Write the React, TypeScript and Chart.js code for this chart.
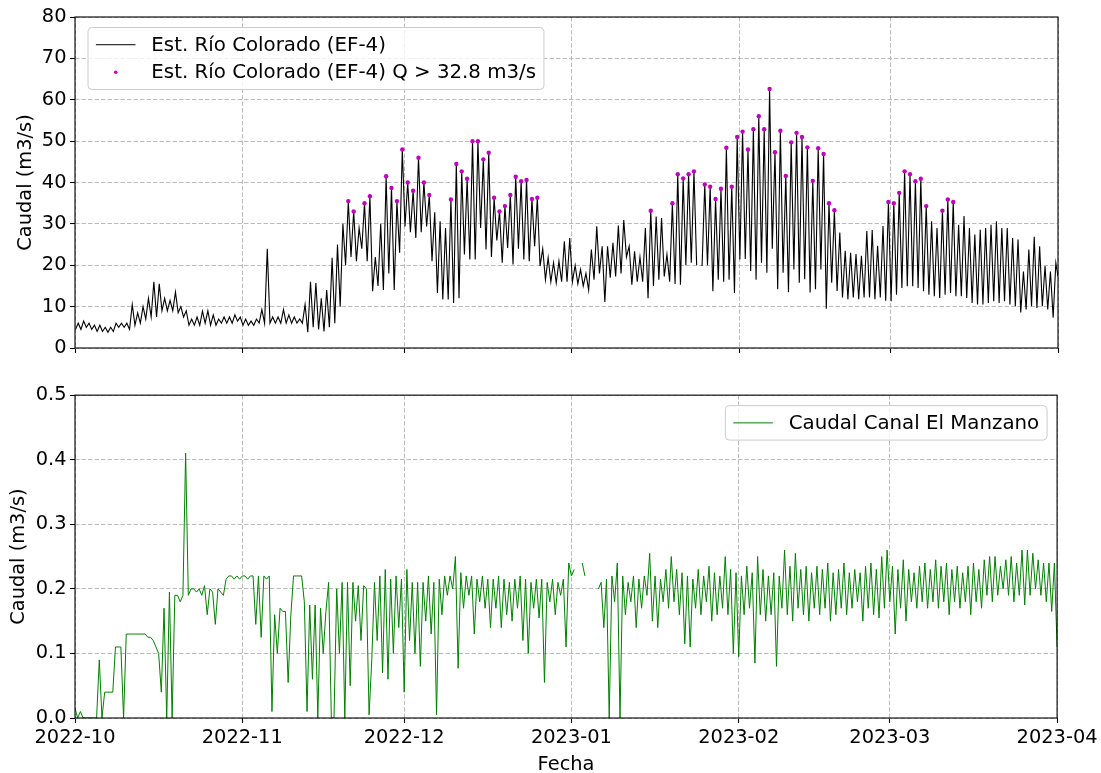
import React, { useEffect, useRef } from "react";
import { Chart, registerables } from "chart.js";

Chart.register(...registerables);

const FONT_FAMILY = '"DejaVu Sans", Verdana, sans-serif';
const FONT_SIZE = 19.4;
const LEGEND_FONT_SIZE = 19.8;

// ---------- shared x axis (days since 2022-10-01) ----------
const monthTickDays = [0, 31, 61, 92, 123, 151, 182];
const monthTickLabels = ["2022-10", "2022-11", "2022-12", "2023-01", "2023-02", "2023-03", "2023-04"];

// ---------- Est. Río Colorado (EF-4): daily peak and daily low (m3/s) ----------
const rioThreshold = 32.8;
const rioPeakOct = [6, 6.5, 6, 5.5, 5.5, 5, 5, 6, 6, 6, 10.5, 8.5, 10, 12, 16, 15.5, 12, 11.5, 13.5, 10, 9, 7, 7.5, 8.9, 9, 8, 7, 7.5, 7.5, 8, 7.5];
const rioLowOct = [4.5, 4.5, 5, 4.5, 4, 4, 3.8, 4, 5, 5, 4.5, 5.5, 6, 7, 7.5, 7.5, 9, 9, 9, 8.5, 7.5, 5.5, 5.5, 5.5, 6, 5.5, 5.5, 6, 6, 6, 6.5];
const rioPeakNov = [7, 6.5, 7, 9.3, 24, 7.5, 7.5, 9.3, 8, 7.5, 7, 10.5, 16, 15.7, 12, 14, 21.8, 25, 30, 35.5, 33, 29, 35, 36.7, 22, 30, 41.5, 38.7, 35.5, 48];
const rioLowNov = [5.5, 5.5, 5.5, 6, 6, 6, 6, 6, 6, 6, 6, 6, 3.8, 5, 4.5, 4, 5, 6, 10, 20, 22, 21, 24, 21, 13.7, 15, 14, 18, 14, 23];
const rioPeakDec = [40, 38, 46, 40, 37, 32.8, 30.6, 29, 35.9, 44.5, 42.7, 40.9, 50, 50, 45.6, 47.2, 36.3, 33, 34.3, 37, 41.4, 40.3, 40.6, 36, 36.3, 24, 21.8, 20.6, 21, 25.8, 26.6];
const rioLowDec = [29.4, 28, 26.6, 28, 29.4, 21, 13.3, 11.7, 11.7, 10.9, 12, 22.6, 21.4, 21.4, 29, 23.8, 22, 26, 20.6, 24.2, 20.2, 24, 21.4, 21, 24.6, 19.8, 16.5, 16, 15.7, 16, 16];
const rioPeakJan = [20, 19, 18, 23.8, 29.4, 24.6, 24.6, 25.4, 29.6, 30.9, 24.6, 23.4, 22, 29, 33.2, 31.8, 31.4, 22.6, 35, 42, 41, 42, 42.7, null, 39.5, 39, 36, 38.5, 48.4, 39, 51];
const rioLowJan = [16, 15.5, 15, 14, 16.5, 18, 11.1, 17, 17.3, 18, 22, 15.3, 16, 16, 12, 15, 16.5, 17.3, 16, 15.5, 15.3, 20, 20.6, 20, 19.8, 20, 13.7, 16.5, 16, 16.5, 13.3];
const rioPeakFeb = [52.3, 48, 52.9, 56, 52.9, 62.6, 47.3, 52.5, 41.6, 49.7, 52, 51, 48.5, 40.4, 48.3, 46.9, 35, 33.3, 27.9, 23.5, 23, 22.7, 22.3, 28.3, 28.5, 24.7, 29.5, 35.3];
const rioLowFeb = [21.4, 21.5, 18.6, 16.5, 20.6, 18.2, 24, 14.2, 18.2, 13.5, 19, 15.8, 16.6, 13.4, 14.2, 19, 9.5, 15.8, 13.8, 12.2, 11.8, 12.2, 11.8, 12.2, 12.2, 11.8, 12.2, 11.4];
const rioPeakMar = [35, 37.5, 42.7, 42, 40.3, 40.9, 34.3, 30.6, 29, 33.2, 35.9, 35.3, 29.8, 31.9, 29, 27.4, 28.6, 29, 29.8, 30.6, 29, 29, 26.6, 26.2, 18.5, 23.8, 26.9, 24.6, 19.8, 18.5, 20.6];
const rioLowMar = [11.3, 12.9, 14.5, 14.9, 14.9, 14.5, 13.7, 12.9, 12.5, 12.1, 12.9, 13.3, 12.5, 12.5, 12.1, 10.9, 10.5, 10.5, 10.9, 11.3, 10.9, 11.3, 10.5, 10.1, 8.6, 9.3, 10.1, 9.7, 10.1, 9.3, 7.3];
const rioLastValue = 17.3;

// ---------- Caudal Canal El Manzano: two readings per day (m3/s) ----------
const canalFirstOct = [0.015, 0.01, 0, 0, 0, 0, 0.04, 0.04, 0.11, 0, 0.13, 0.13, 0.13, 0.13, 0.125, 0.11, 0.04, 0, 0, 0.19, 0.19, 0.19, 0.2, 0.2, 0.205, 0.2, 0.145, 0.195, 0.215, 0.22, 0.22];
const canalSecondOct = [0, 0, 0, 0, 0.09, 0.04, 0.04, 0.11, 0.11, 0.13, 0.13, 0.13, 0.13, 0.125, 0.12, 0.1, 0.17, 0.195, 0.19, 0.18, 0.41, 0.2, 0.195, 0.19, 0.16, 0.195, 0.2, 0.19, 0.22, 0.215, 0.215];
const canalFirstNov = [0.22, 0.215, 0.22, 0.22, 0.22, 0.22, 0.16, 0.17, 0.165, 0.16, 0.22, 0.22, 0.01, 0.06, 0, 0.1, 0.21, 0, 0.1, 0, 0.05, 0.15, 0.12, 0.2, 0.09, 0.12, 0.07, 0.06, 0.1, 0.14];
const canalSecondNov = [0.22, 0.22, 0.145, 0.125, 0.215, 0.01, 0.1, 0.165, 0.055, 0.22, 0.22, 0.18, 0.175, 0.175, 0.17, 0.165, 0, 0.2, 0.21, 0.21, 0.21, 0.205, 0.205, 0.005, 0.21, 0.22, 0.23, 0.215, 0.22, 0.215];
const canalFirstDec = [0.04, 0.12, 0.1, 0.08, 0.15, 0.13, 0.005, 0.16, 0.19, 0.2, 0.077, 0.17, 0.19, 0.13, 0.18, 0.17, 0.14, 0.17, 0.14, 0.16, 0.15, 0.17, 0.12, 0.1, 0.17, 0.155, 0.055, 0.18, 0.16, 0.19, 0.11];
const canalSecondDec = [0.23, 0.21, 0.21, 0.21, 0.22, 0.21, 0.215, 0.22, 0.22, 0.25, 0.225, 0.22, 0.22, 0.215, 0.22, 0.215, 0.215, 0.22, 0.215, 0.21, 0.215, 0.22, 0.215, 0.21, 0.215, 0.215, 0.21, 0.215, 0.21, 0.215, 0.24];
const canalFirstJan = [0.22, null, 0.24, null, null, 0.2, 0.14, 0, 0.18, 0, 0.16, 0.18, 0.14, 0.17, 0.19, 0.15, 0.14, 0.18, 0.17, 0.18, 0.16, 0.115, 0.11, 0.17, 0.16, 0.18, 0.15, 0.16, 0.17, 0.16, 0.1];
const canalSecondJan = [0.23, null, 0.22, null, null, 0.21, 0.215, 0.22, 0.24, 0.22, 0.21, 0.22, 0.215, 0.22, 0.255, 0.22, 0.215, 0.23, 0.25, 0.23, 0.225, 0.22, 0.215, 0.23, 0.22, 0.235, 0.225, 0.22, 0.25, 0.23, 0.225];
const canalFirstFeb = [0.095, 0.16, 0.17, 0.085, 0.16, 0.15, 0.16, 0.08, 0.17, 0.16, 0.15, 0.17, 0.16, 0.15, 0.17, 0.16, 0.17, 0.15, 0.16, 0.17, 0.16, 0.17, 0.18, 0.15, 0.17, 0.16, 0.155, 0.17];
const canalSecondFeb = [0.22, 0.235, 0.225, 0.25, 0.23, 0.22, 0.225, 0.22, 0.26, 0.235, 0.255, 0.23, 0.235, 0.225, 0.235, 0.23, 0.24, 0.225, 0.23, 0.24, 0.225, 0.23, 0.225, 0.235, 0.24, 0.23, 0.25, 0.26];
const canalFirstMar = [0.18, 0.13, 0.17, 0.15, 0.18, 0.17, 0.18, 0.17, 0.18, 0.17, 0.18, 0.16, 0.18, 0.17, 0.18, 0.16, 0.18, 0.17, 0.19, 0.18, 0.19, 0.2, 0.19, 0.18, 0.19, 0.175, 0.19, 0.2, 0.19, 0.18, 0.165];
const canalSecondMar = [0.235, 0.23, 0.245, 0.23, 0.225, 0.235, 0.24, 0.23, 0.245, 0.235, 0.24, 0.23, 0.235, 0.225, 0.235, 0.24, 0.23, 0.245, 0.25, 0.25, 0.235, 0.245, 0.25, 0.24, 0.26, 0.26, 0.255, 0.245, 0.24, 0.24, 0.24];
const canalLastValue = 0.11;

// ---------- labels ----------
const rioLabel = "Est. Río Colorado (EF-4)";
const rioHighLabel = `Est. Río Colorado (EF-4) Q > ${rioThreshold} m3/s`;
const canalLabel = "Caudal Canal El Manzano";
const yTitle = "Caudal (m3/s)";
const xTitle = "Fecha";

type Pt = { x: number; y: number | null };

const rioPeaks = [...rioPeakOct, ...rioPeakNov, ...rioPeakDec, ...rioPeakJan, ...rioPeakFeb, ...rioPeakMar];
const rioLows = [...rioLowOct, ...rioLowNov, ...rioLowDec, ...rioLowJan, ...rioLowFeb, ...rioLowMar];
const canalFirst = [...canalFirstOct, ...canalFirstNov, ...canalFirstDec, ...canalFirstJan, ...canalFirstFeb, ...canalFirstMar];
const canalSecond = [...canalSecondOct, ...canalSecondNov, ...canalSecondDec, ...canalSecondJan, ...canalSecondFeb, ...canalSecondMar];

function buildRio(): Pt[] {
  const pts: Pt[] = [];
  rioLows.forEach((low, d) => {
    pts.push({ x: d + 0.1, y: low });
    pts.push({ x: d + 0.6, y: rioPeaks[d] as number | null });
  });
  pts.push({ x: 182, y: rioLastValue });
  return pts;
}

function buildCanal(): Pt[] {
  const pts: Pt[] = [];
  canalFirst.forEach((a, d) => {
    pts.push({ x: d, y: a as number | null });
    pts.push({ x: d + 0.5, y: canalSecond[d] as number | null });
  });
  pts.push({ x: 182, y: canalLastValue });
  return pts;
}

const GRID_COLOR = "rgba(176,176,176,0.85)";
const GRID_DASH = [4.5, 2];

const framePlugin = {
  id: "frame",
  afterDatasetsDraw(chart: any) {
    const { ctx, chartArea } = chart;
    ctx.save();
    ctx.strokeStyle = "#000";
    ctx.lineWidth = 1.1;
    ctx.strokeRect(chartArea.left, chartArea.top, chartArea.right - chartArea.left, chartArea.bottom - chartArea.top);
    ctx.restore();
  },
};

const boxLegendPlugin = {
  id: "boxLegend",
  afterDraw(chart: any, _args: any, opts: any) {
    if (!opts || !opts.items) return;
    const { ctx, chartArea } = chart;
    const fs = LEGEND_FONT_SIZE;
    const pad = 0.4 * fs;
    const handle = 2 * fs;
    const gap = 0.8 * fs;
    const rowH = 18.6;
    const spacing = 0.45 * fs;
    const items = opts.items as { kind: string; color: string; label: string }[];
    ctx.save();
    ctx.font = `${fs}px ${FONT_FAMILY}`;
    const textW = Math.max(...items.map((it) => ctx.measureText(it.label).width));
    const w = pad * 2 + handle + gap + textW;
    const h = pad * 2 + rowH * items.length + spacing * (items.length - 1);
    const x = opts.align === "right" ? chartArea.right - 10 - w : chartArea.left + 13;
    const y = chartArea.top + 10.5;
    ctx.beginPath();
    if (ctx.roundRect) ctx.roundRect(x, y, w, h, 4);
    else ctx.rect(x, y, w, h);
    ctx.fillStyle = "rgba(255,255,255,0.8)";
    ctx.fill();
    ctx.strokeStyle = "#cccccc";
    ctx.lineWidth = 1;
    ctx.stroke();
    items.forEach((it, i) => {
      const cy = y + pad + rowH / 2 + i * (rowH + spacing);
      if (it.kind === "line") {
        ctx.beginPath();
        ctx.strokeStyle = it.color;
        ctx.lineWidth = 1;
        ctx.moveTo(x + pad, cy);
        ctx.lineTo(x + pad + handle, cy);
        ctx.stroke();
      } else {
        ctx.beginPath();
        ctx.fillStyle = it.color;
        ctx.arc(x + pad + handle / 2, cy, 1.8, 0, Math.PI * 2);
        ctx.fill();
      }
      ctx.fillStyle = "#000";
      ctx.textBaseline = "middle";
      ctx.textAlign = "left";
      ctx.fillText(it.label, x + pad + handle + gap, cy + 1);
    });
    ctx.restore();
  },
};

function xScale(showLabels: boolean) {
  return {
    type: "linear",
    min: 0,
    max: 182,
    afterBuildTicks: (scale: any) => {
      scale.ticks = monthTickDays.map((v) => ({ value: v }));
    },
    afterFit: (scale: any) => {
      scale.height = showLabels ? 55 : 32;
    },
    ticks: {
      display: showLabels,
      autoSkip: false,
      maxRotation: 0,
      minRotation: 0,
      padding: 3.4,
      color: "#000",
      font: { family: FONT_FAMILY, size: FONT_SIZE },
      callback: (_v: any, i: number) => monthTickLabels[i],
    },
    grid: { color: GRID_COLOR, lineWidth: 1, drawTicks: true, tickLength: 5, tickColor: "#000", tickWidth: 1.1 },
    border: { display: false, dash: GRID_DASH },
    title: showLabels
      ? { display: true, text: xTitle, color: "#000", font: { family: FONT_FAMILY, size: FONT_SIZE, lineHeight: 0.85 }, padding: 0 }
      : { display: false },
  };
}

function yScale(min: number, max: number, step: number, digits: number, titlePad: number) {
  return {
    type: "linear",
    position: "left",
    min,
    max,
    afterFit: (scale: any) => {
      scale.width = 75;
    },
    ticks: {
      stepSize: step,
      padding: 3.5,
      color: "#000",
      font: { family: FONT_FAMILY, size: FONT_SIZE },
      callback: (v: any) => Number(v).toFixed(digits),
    },
    grid: { color: GRID_COLOR, lineWidth: 1, drawTicks: true, tickLength: 5, tickColor: "#000", tickWidth: 1.1 },
    border: { display: false, dash: GRID_DASH },
    title: {
      display: true,
      text: yTitle,
      color: "#000",
      font: { family: FONT_FAMILY, size: FONT_SIZE },
      padding: { top: titlePad, bottom: 0 },
    },
  };
}

export default function App() {
  const topRef = useRef<HTMLCanvasElement | null>(null);
  const botRef = useRef<HTMLCanvasElement | null>(null);

  useEffect(() => {
    const rio = buildRio();
    const rioHigh = rio.filter((p) => p.y !== null && (p.y as number) > rioThreshold);
    const canal = buildCanal();

    const top = new Chart(topRef.current as HTMLCanvasElement, {
      type: "line",
      data: {
        datasets: [
          {
            label: rioHighLabel,
            data: rioHigh as any,
            showLine: false,
            pointRadius: 2.2,
            pointHoverRadius: 2.2,
            pointStyle: "circle",
            pointBackgroundColor: "#bf00bf",
            pointBorderWidth: 0,
            borderColor: "#bf00bf",
            order: 0,
          },
          {
            label: rioLabel,
            data: rio as any,
            borderColor: "#000",
            borderWidth: 1.1,
            pointRadius: 0,
            tension: 0,
            spanGaps: false,
            order: 1,
          },
        ],
      },
      options: {
        responsive: false,
        animation: false,
        devicePixelRatio: 1,
        events: [],
        layout: { padding: { left: 0, right: 43, top: 17, bottom: 0 } },
        scales: {
          x: xScale(false) as any,
          y: yScale(0, 80, 10, 0, 14) as any,
        },
        plugins: {
          legend: { display: false },
          tooltip: { enabled: false },
          boxLegend: {
            align: "left",
            items: [
              { kind: "line", color: "#000", label: rioLabel },
              { kind: "point", color: "#bf00bf", label: rioHighLabel },
            ],
          },
        } as any,
      },
      plugins: [framePlugin, boxLegendPlugin],
    });

    const bot = new Chart(botRef.current as HTMLCanvasElement, {
      type: "line",
      data: {
        datasets: [
          {
            label: canalLabel,
            data: canal as any,
            borderColor: "#008000",
            borderWidth: 1,
            pointRadius: 0,
            tension: 0,
            spanGaps: false,
          },
        ],
      },
      options: {
        responsive: false,
        animation: false,
        devicePixelRatio: 1,
        events: [],
        layout: { padding: { left: 0, right: 43, top: 9, bottom: 0 } },
        scales: {
          x: xScale(true) as any,
          y: yScale(0, 0.5, 0.1, 1, 7) as any,
        },
        plugins: {
          legend: { display: false },
          tooltip: { enabled: false },
          boxLegend: {
            align: "right",
            items: [{ kind: "line", color: "#008000", label: canalLabel }],
          },
        } as any,
      },
      plugins: [framePlugin, boxLegendPlugin],
    });

    return () => {
      top.destroy();
      bot.destroy();
    };
  }, []);

  return (
    <div style={{ position: "absolute", left: 0, top: 0, width: 1101, height: 773, background: "#fff" }}>
      <canvas
        ref={topRef}
        width={1101}
        height={380}
        style={{ position: "absolute", left: 0, top: 0, width: 1101, height: 380 }}
      />
      <canvas
        ref={botRef}
        width={1101}
        height={393}
        style={{ position: "absolute", left: 0, top: 380, width: 1101, height: 393 }}
      />
    </div>
  );
}
